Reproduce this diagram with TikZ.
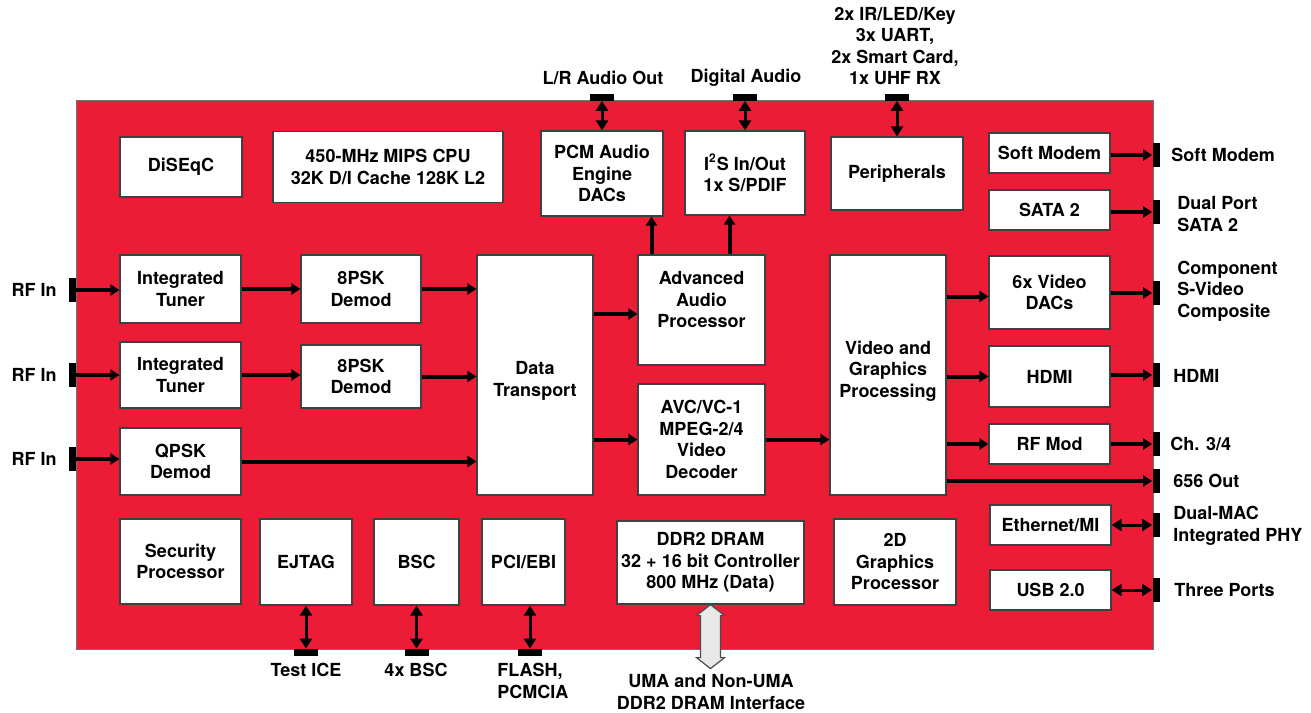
\documentclass[tikz,border=0pt]{standalone}
\usepackage{fontspec}
\setmainfont{TeX Gyre Heros}
\usetikzlibrary{arrows.meta}
\definecolor{chipred}{RGB}{237,28,54}
\definecolor{hollowgray}{RGB}{232,232,232}
\tikzset{
  blk/.style 2 args={draw=black!75, line width=0.6pt, fill=white, align=center,
    inner sep=0pt, minimum width=#1*0.5pt, minimum height=#2*0.5pt},
  vterm/.style={fill=black, inner sep=0pt, minimum width=3.5pt, minimum height=12pt},
  hterm/.style={fill=black, inner sep=0pt, minimum width=12pt, minimum height=3.5pt},
  arr/.style={line width=2pt, -{Triangle[length=4.5pt,width=5.5pt]}},
  bi/.style={line width=1.5pt, {Triangle[length=5pt,width=6pt]}-{Triangle[length=5pt,width=6pt]}},
  lbl/.style={align=center, inner sep=0pt}
}
\begin{document}
\begin{tikzpicture}[x=0.5pt,y=-0.5pt,
  every node/.style={font=\bfseries\fontsize{9}{10.75}\selectfont}]
\useasboundingbox (0,0) rectangle (1311,712);
% chip outline
\draw[draw=black!55, line width=0.5pt, fill=chipred] (76,100) rectangle (1153,649);
% top row
\node[blk={122}{60}] (disq) at (181,167) {DiSEqC};
\node[blk={230}{71}] (cpu) at (388,167) {450-MHz MIPS CPU\\32K D/I Cache 128K L2};
\node[blk={122}{85}] (pcm) at (602,173.5) {PCM Audio\\Engine\\DACs};
\node[blk={120}{84}] (iis) at (745,173) {I\textsuperscript{2}S In/Out\\1x S/PDIF};
\node[blk={132}{73}] (peri) at (897,173.5) {Peripherals};
\node[blk={121}{40}] (smod) at (1049.5,153) {Soft Modem};
\node[blk={121}{40}] (sata) at (1049.5,210) {SATA 2};
% front end
\node[blk={121}{68}] (tun1) at (180.5,289) {Integrated\\Tuner};
\node[blk={120}{68}] (psk1) at (361,289) {8PSK\\Demod};
\node[blk={121}{66}] (tun2) at (180.5,375) {Integrated\\Tuner};
\node[blk={120}{63}] (psk2) at (361,376.5) {8PSK\\Demod};
\node[blk={121}{67}] (qpsk) at (180.5,461.5) {QPSK\\Demod};
% core
\node[blk={116}{240}, label={[lbl, yshift=-3pt]center:Data\\Transport}] (dt) at (535,375) {};
\node[blk={127}{110}, label={[lbl, yshift=5pt]center:Advanced\\Audio\\Processor}] (aap) at (701.5,310) {};
\node[blk={127}{111}] (avc) at (701.5,439.5) {AVC/VC-1\\MPEG-2/4\\Video\\Decoder};
\node[blk={116}{240}, label={[lbl, yshift=2pt]center:Video and\\Graphics\\Processing}] (vgp) at (888,375) {};
% video outputs
\node[blk={121}{73}] (vdac) at (1049.5,292.5) {6x Video\\DACs};
\node[blk={121}{61}] (hdmi) at (1049.5,376.5) {HDMI};
\node[blk={121}{40}] (rfm) at (1049.5,444) {RF Mod};
\node[blk={121}{40}] (eth) at (1050.5,525) {Ethernet/MI};
\node[blk={121}{40}] (usb) at (1050.5,590) {USB 2.0};
% bottom row
\node[blk={121}{85}] (sec) at (180.5,561.5) {Security\\Processor};
\node[blk={92}{86}] (ejtag) at (306,562) {EJTAG};
\node[blk={85}{86}] (bsc) at (416.5,562) {BSC};
\node[blk={83}{86}] (pci) at (523.5,562) {PCI/EBI};
\node[blk={187}{83}] (dram) at (710.5,562.5) {DDR2 DRAM\\32 + 16 bit Controller\\800 MHz (Data)};
\node[blk={122}{86}] (gfx) at (895,562) {2D\\Graphics\\Processor};

% pins, left side
\foreach \n/\y in {1/290,2/375,3/459}{
  \node[vterm] (rf\n) at (72.5,\y) {};
  \node[lbl, anchor=east] (lrf\n) at (57,\y) {RF In};
}
% pins, right side
\foreach \n/\y in {smod/155,sata/212,vdac/293,hdmi/375,rfm/444,vout/481,eth/525,usb/590}
  \node[vterm] (t\n) at (1156,\y) {};
% pins, top and bottom
\node[hterm] (tlr) at (602,97) {};
\node[hterm] (tdig) at (745,97) {};
\node[hterm] (tper) at (897,97) {};
\node[hterm] (ttest) at (306,652.5) {};
\node[hterm] (tbsc) at (416.5,652.5) {};
\node[hterm] (tpci) at (530,652.5) {};

% outside labels
\node[lbl] (llr) at (603,78) {L/R Audio Out};
\node[lbl] (ldig) at (746,78) {Digital Audio};
\node[lbl] (lper) at (895,46) {2x IR/LED/Key\\3x UART,\\2x Smart Card,\\1x UHF RX};
\node[lbl, anchor=west] (lsmod) at (1171,155) {Soft Modem};
\node[lbl, anchor=west, align=left] (lsata) at (1177,214) {Dual Port\\SATA 2};
\node[lbl, anchor=west, align=left] (lvdac) at (1177,291) {Component\\S-Video\\Composite};
\node[lbl, anchor=west] (lhdmi) at (1173,376) {HDMI};
\node[lbl, anchor=west] (lrfm) at (1170,444) {Ch. 3/4};
\node[lbl, anchor=west] (lvout) at (1173,481) {656 Out};
\node[lbl, anchor=west, align=left] (leth) at (1173,526) {Dual-MAC\\Integrated PHY};
\node[lbl, anchor=west] (lusb) at (1174,590) {Three Ports};
\node[lbl] (ltest) at (306,670) {Test ICE};
\node[lbl] (lbsc) at (416,670) {4x BSC};
\node[lbl, anchor=west, align=left] (lpci) at (497,681) {FLASH,\\PCMCIA};
\node[lbl] (luma) at (711,692) {UMA and Non-UMA\\DDR2 DRAM Interface};

% data flow
\foreach \n in {1,2,3}
  \draw[arr] (rf\n.east) -- (rf\n.east -| {\ifcase\n\or tun1\or tun2\or qpsk\fi}.west);
\draw[arr] (tun1.east) -- (tun1.east -| psk1.west);
\draw[arr] (tun2.east) -- (tun2.east -| psk2.west);
\draw[arr] (psk1.east) -- (psk1.east -| dt.west);
\draw[arr] (psk2.east) -- (psk2.east -| dt.west);
\draw[arr] (qpsk.east) -- (qpsk.east -| dt.west);
\draw[arr] ([yshift=-2pt]aap.west -| dt.east) -- ([yshift=-2pt]aap.west);
\draw[arr] (avc.west -| dt.east) -- (avc.west);
\draw[arr] ([xshift=-25pt]aap.north) coordinate (a1) -- (a1 |- pcm.south);
\draw[arr] ([xshift=14pt]aap.north) coordinate (a2) -- (a2 |- iis.south);
\draw[arr] (avc.east) -- (avc.east -| vgp.west);
\draw[arr] ([yshift=-2pt]vdac.west -| vgp.east) -- ([yshift=-2pt]vdac.west);
\draw[arr] (hdmi.west -| vgp.east) -- (hdmi.west);
\draw[arr] (rfm.west -| vgp.east) -- (rfm.west);
\draw[arr] (tvout.west -| vgp.east) -- (tvout.west);
\foreach \b in {smod,sata,vdac,hdmi,rfm}
  \draw[arr] (t\b.west -| \b.east) -- (t\b.west);
\foreach \b in {eth,usb}
  \draw[bi] (t\b.west -| \b.east) -- (t\b.west);
\draw[bi] (tlr.south) -- (tlr.south |- pcm.north);
\draw[bi] (tdig.south) -- (tdig.south |- iis.north);
\draw[bi] (tper.south) -- (tper.south |- peri.north);
\draw[bi] (ttest.north) -- (ttest.north |- ejtag.south);
\draw[bi] (tbsc.north) -- (tbsc.north |- bsc.south);
\draw[bi] (tpci.north) -- (tpci.north |- pci.south);
% memory interface
\draw[draw=black!70, line width=0.6pt, fill=hollowgray] (dram.south) -- ++(14,11) -- ++(-4,0)
  -- ++(0,42) -- ++(4,0) -- ++(-14,11) -- ++(-14,-11) -- ++(4,0) -- ++(0,-42) -- ++(-4,0) -- cycle;
\end{tikzpicture}
\end{document}
